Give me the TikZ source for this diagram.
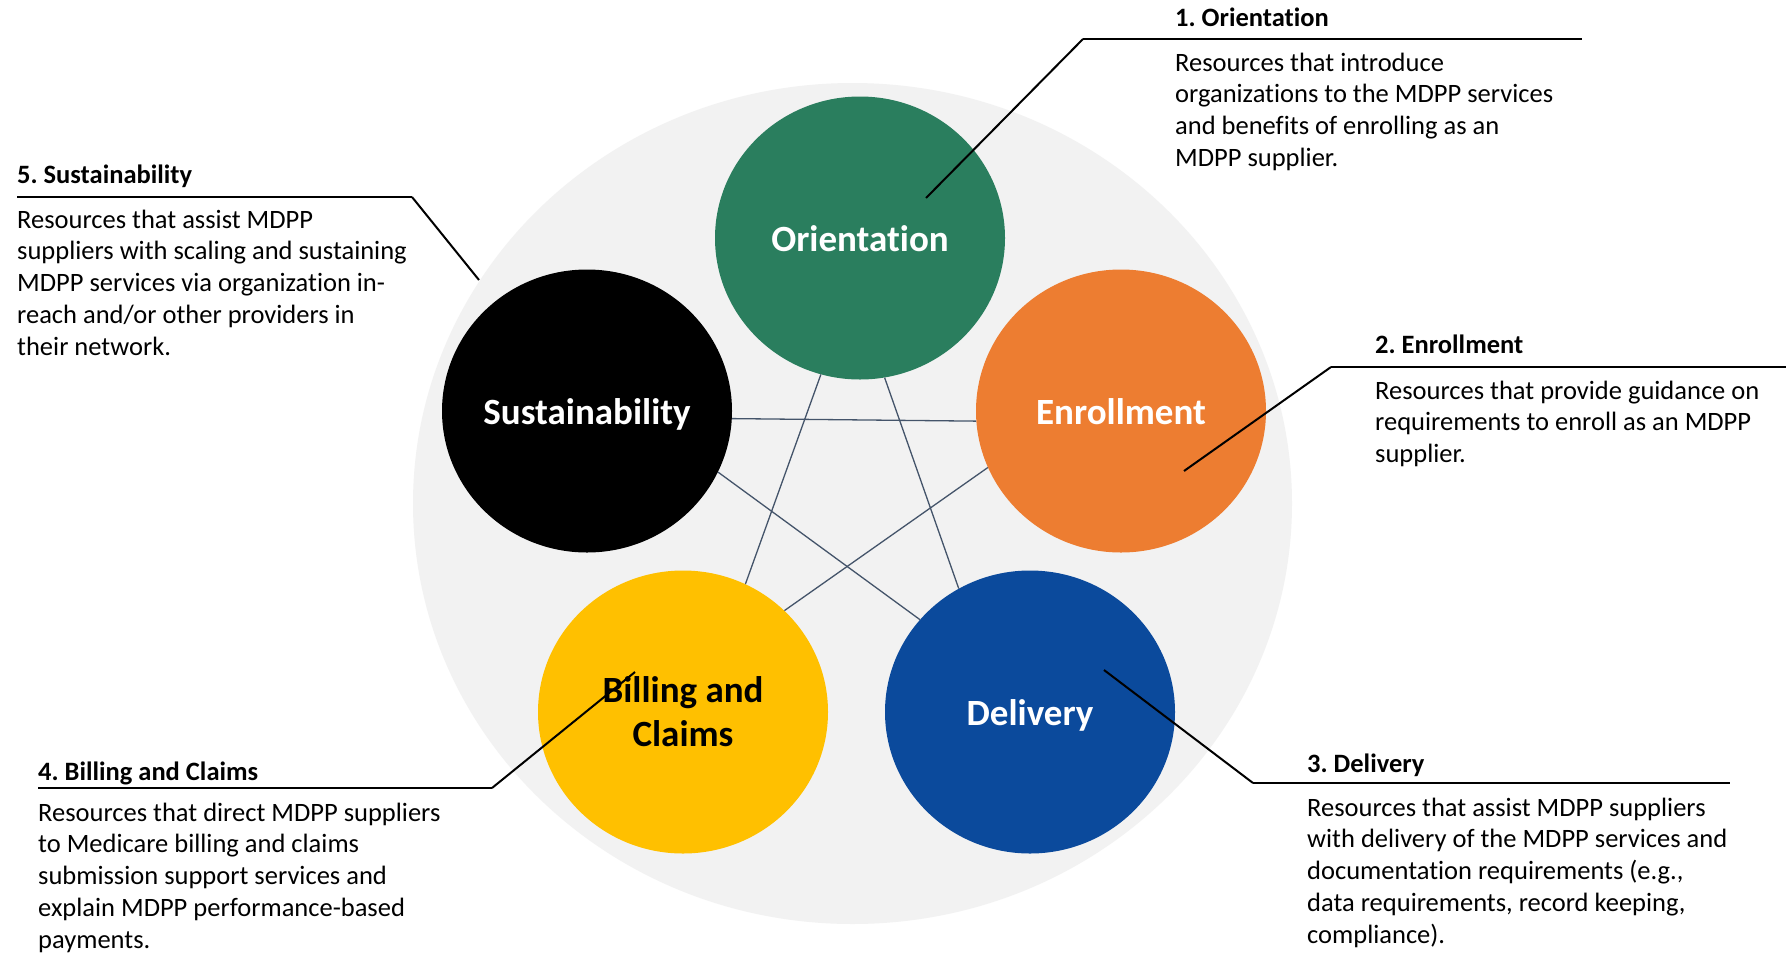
\documentclass[tikz,border=0pt]{standalone}
\usepackage{fontspec}
\setmainfont{Carlito}[Ligatures={NoCommon}]
\frenchspacing
\usetikzlibrary{shapes.geometric}
\definecolor{bggray}{HTML}{F2F2F2}
\definecolor{ogreen}{HTML}{2A7E5E}
\definecolor{eorange}{HTML}{ED7D31}
\definecolor{byellow}{HTML}{FFC000}
\definecolor{dblue}{HTML}{0B4A9C}
\definecolor{linkc}{HTML}{44546A}
\begin{document}
\begin{tikzpicture}[x=1pt,y=-1pt,
  stage/.style={ellipse,minimum width=290pt,minimum height=283pt,inner sep=0pt,draw=none,
    font=\fontsize{37}{44.5}\selectfont\bfseries,text=white},
  oneline/.style={text height=26pt,text depth=0pt},
  link/.style={draw=linkc,line width=1.3pt},
  leader/.style={draw=black,line width=2pt},
  rulel/.style={draw=black,line width=2.6pt},
  ttl/.style={anchor=base west,inner sep=0pt,font=\fontsize{26.5}{31.8}\selectfont\bfseries},
  body/.style={anchor=base west,inner sep=0pt,align=left,font=\fontsize{26.5}{31.8}\selectfont},
]
\useasboundingbox (0,0) rectangle (1786,954);
\fill[white] (0,0) rectangle (1786,954);

\node[ellipse,fill=bggray,minimum width=879pt,minimum height=841pt,inner sep=0pt] (bg) at (852.5,503.5) {};

\node[stage,oneline,fill=ogreen] (ori) at (860,238) {\makebox[0pt][c]{Orientation}};
\node[stage,oneline,fill=black] (sus) at (587,411) {\makebox[0pt][c]{Sustainability}};
\node[stage,oneline,fill=eorange] (enr) at (1121,411) {\makebox[0pt][c]{Enrollment}};
\node[stage,fill=byellow,text=black] (bil) at (683,712) {\makebox[0pt][c]{\raisebox{-3.5pt}[\height][\depth]{\begin{tabular}{@{}c@{}}Billing and\\Claims\end{tabular}}}};
\node[stage,oneline,fill=dblue] (del) at (1030,712) {\makebox[0pt][c]{Delivery}};

\draw[link] (sus.-3) -- (enr.184);
\draw[link] (ori.254) -- (bil.64);
\draw[link] (ori.280) -- (del.120);
\draw[link] (sus.-25) -- (del.140);
\draw[link] (enr.203) -- (bil.45);

% callouts
\coordinate (oriP) at (926,198);
\coordinate (oriE) at (1083,39);
\coordinate (oriR) at (1582,39);
\coordinate (enrP) at (1184,471);
\coordinate (enrE) at (1331,367);
\coordinate (enrR) at (1786,367);
\coordinate (delP) at (1104,670);
\coordinate (delE) at (1253,783);
\coordinate (delR) at (1730,783);
\coordinate (bilP) at (635,672);
\coordinate (bilE) at (492,788);
\coordinate (bilR) at (38,788);
\coordinate (susP) at (479,280);
\coordinate (susE) at (412,197);
\coordinate (susR) at (17,197);

\draw[leader] (oriP) -- (oriE);
\draw[rulel] (oriE) -- (oriR);
\draw[leader] (enrP) -- (enrE);
\draw[rulel] (enrE) -- (enrR);
\draw[leader] (delP) -- (delE);
\draw[rulel] (delE) -- (delR);
\draw[leader] (bilP) -- (bilE);
\draw[rulel] (bilE) -- (bilR);
\draw[leader] (susP) -- (susE);
\draw[rulel] (susE) -- (susR);

% body nodes: base anchor = baseline of last line
\node[ttl] (t1) at (1175,26) {1. Orientation};
\node[body] (b1) at (1175,166.4) {Resources that introduce\\organizations to the MDPP services\\and benefits of enrolling as an\\MDPP supplier.};

\node[ttl] (t2) at (1375,353) {2. Enrollment};
\node[body] (b2) at (1375,462.6) {Resources that provide guidance on\\requirements to enroll as an MDPP\\supplier.};

\node[ttl] (t3) at (1307,772) {3. Delivery};
\node[body] (b3) at (1307,943.2) {Resources that assist MDPP suppliers\\with delivery of the MDPP services and\\documentation requirements (e.g.,\\data requirements, record keeping,\\compliance).};

\node[ttl] (t4) at (38,780) {4. Billing and Claims};
\node[body] (b4) at (38,948.2) {Resources that direct MDPP suppliers\\to Medicare billing and claims\\submission support services and\\explain MDPP performance-based\\payments.};

\node[ttl] (t5) at (17,183) {5. Sustainability};
\node[body] (b5) at (17,355.2) {Resources that assist MDPP\\suppliers with scaling and sustaining\\MDPP services via organization in-\\reach and/or other providers in\\their network.};
\end{tikzpicture}
\end{document}
